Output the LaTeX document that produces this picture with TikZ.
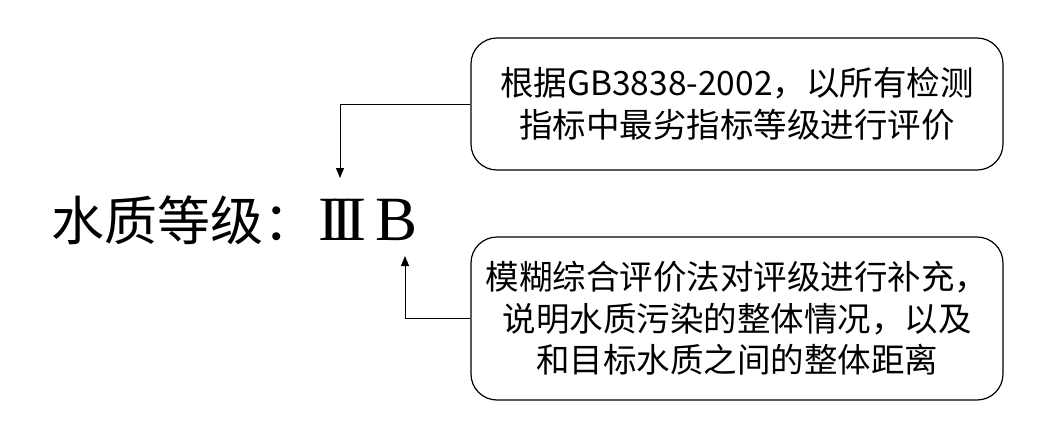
\documentclass[tikz,border=0pt]{standalone}
\usepackage{fontspec}
\newfontfamily\cjk{Noto Sans CJK SC}
\newfontfamily\romanfont{Liberation Serif}
\usetikzlibrary{arrows.meta}
\begin{document}
\begin{tikzpicture}[x=1pt,y=-1pt,
  infobox/.style={draw=black, line width=1.2pt, rounded corners=26pt, inner sep=0pt, align=center, font=\cjk\fontsize{33.5}{42}\selectfont},
  link/.style={draw=black, line width=1pt, -{Triangle[width=8pt,length=10pt]}}]
\useasboundingbox (0,0) rectangle (1061,432);
\node[anchor=base west, inner sep=0pt, font=\cjk\fontsize{53}{60}\selectfont] (title) at (51,240) {水质等级：};
\node[anchor=base west, inner sep=0pt, font=\romanfont\fontsize{63}{70}\selectfont] (grade) at (318,240) {I\kern-7.5pt I\kern-7.5pt I\kern9pt B};
\node[infobox, minimum width=532pt, minimum height=132pt] (top) at (737,104) {根据GB3838-2002，以所有检测\\指标中最劣指标等级进行评价};
\node[infobox, minimum width=532pt, minimum height=163pt, font=\cjk\fontsize{33.5}{41.5}\selectfont] (bot) at (737,318.5) {模糊综合评价法对评级进行补充，\\说明水质污染的整体情况，以及\\和目标水质之间的整体距离};
\coordinate (tipA) at (340,178);
\coordinate (tipB) at (405,256);
\draw[link] (top.west) -| (tipA);
\draw[link] (bot.west) -| (tipB);
\end{tikzpicture}
\end{document}
